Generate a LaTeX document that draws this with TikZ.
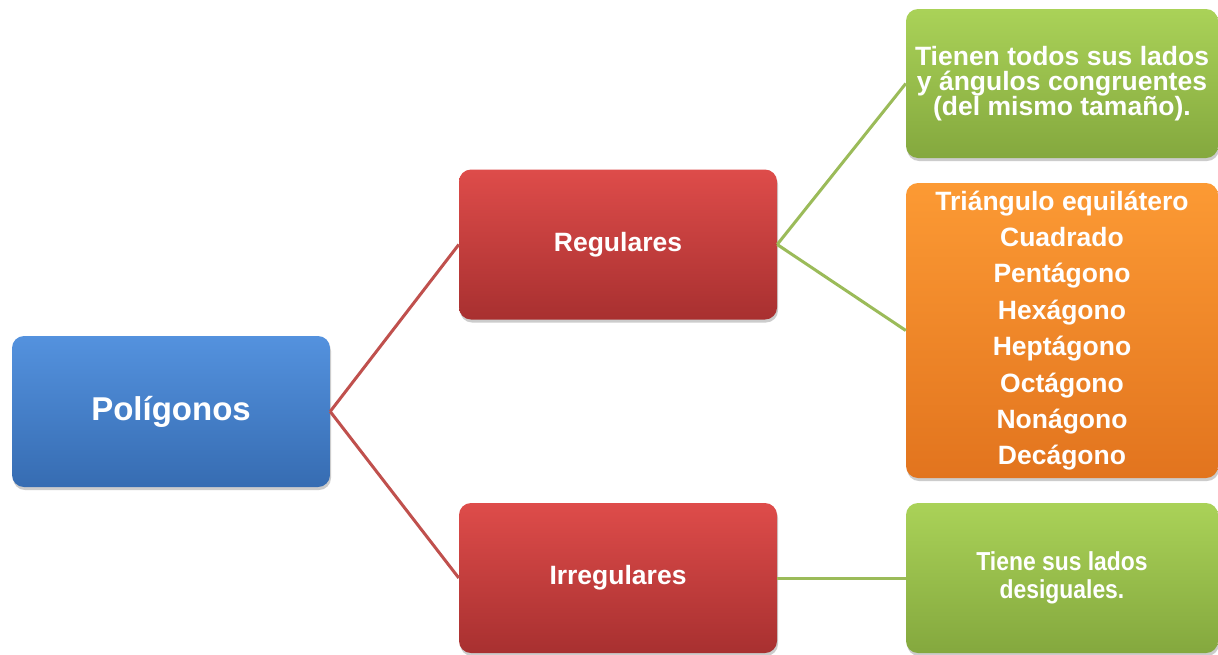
\documentclass[tikz,border=0pt]{standalone}
\usepackage{fontspec}
\setmainfont{Liberation Sans}
\newfontfamily\condfont{Liberation Sans}[FakeStretch=0.88]
\usetikzlibrary{shadows}
\definecolor{bluetop}{RGB}{84,146,222}
\definecolor{bluebot}{RGB}{54,108,178}
\definecolor{redtop}{RGB}{222,76,74}
\definecolor{redbot}{RGB}{168,48,48}
\definecolor{greentop}{RGB}{170,210,88}
\definecolor{greenbot}{RGB}{132,168,62}
\definecolor{orangetop}{RGB}{252,154,52}
\definecolor{orangebot}{RGB}{226,116,30}
\definecolor{redline}{RGB}{192,80,77}
\definecolor{greenline}{RGB}{155,187,89}
\tikzset{
  box/.style={rounded corners=12pt, text=white, align=center, inner sep=0pt,
    font=\bfseries\fontsize{26.5}{30}\selectfont,
    drop shadow={opacity=0.4, shadow xshift=1pt, shadow yshift=-3pt}},
  bluebox/.style={box, top color=bluetop, bottom color=bluebot},
  redbox/.style={box, top color=redtop, bottom color=redbot, minimum width=318pt, minimum height=150pt},
  greenbox/.style={box, top color=greentop, bottom color=greenbot, minimum width=312pt},
  orangebox/.style={box, top color=orangetop, bottom color=orangebot, minimum width=312pt},
  redconn/.style={draw=redline, line width=3pt},
  greenconn/.style={draw=greenline, line width=3pt}
}
\begin{document}
\begin{tikzpicture}[x=1pt,y=-1pt]
\useasboundingbox[fill=white] (0,0) rectangle (1218,654);
\node[bluebox, minimum width=318pt, minimum height=151pt,
  font=\bfseries\fontsize{33}{36}\selectfont] (pol) at (171,411.5) {Polígonos};
\node[redbox] (reg) at (618,244.5) {Regulares};
\node[redbox] (irr) at (618,578) {Irregulares};
\node[greenbox, minimum height=149pt, font=\bfseries\fontsize{26.5}{25}\selectfont] (g1) at (1062,83.5)
  {Tienen todos sus lados\\y ángulos congruentes\\(del mismo tamaño).};
\node[orangebox, minimum height=295pt, font=\bfseries\fontsize{26.5}{36.4}\selectfont] (ora) at (1062,330.5)
  {Triángulo equilátero\\Cuadrado\\Pentágono\\Hexágono\\Heptágono\\Octágono\\Nonágono\\Decágono};
\node[greenbox, minimum height=150pt, font=\condfont\bfseries\fontsize{26}{28}\selectfont] (g2) at (1062,578)
  {Tiene sus lados\\desiguales.};
\draw[redconn] (pol.east) -- (reg.west);
\draw[redconn] (pol.east) -- (irr.west);
\draw[greenconn] (reg.east) -- (g1.west);
\draw[greenconn] (reg.east) -- (ora.west);
\draw[greenconn] (irr.east) -- (g2.west);
\end{tikzpicture}
\end{document}
